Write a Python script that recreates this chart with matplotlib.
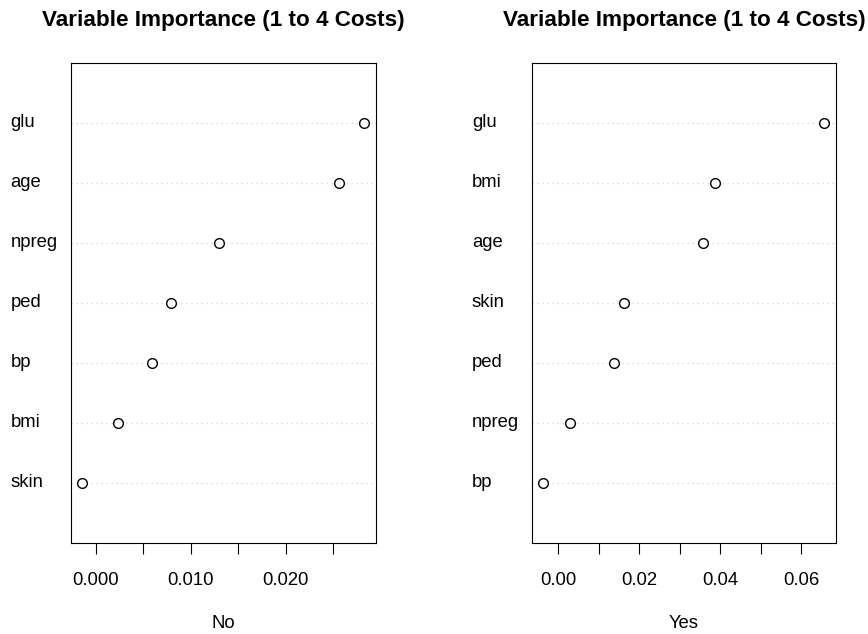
import numpy as np
import matplotlib
matplotlib.use("Agg")
import matplotlib.pyplot as plt

plt.rcParams['font.family'] = ['Liberation Sans', 'DejaVu Sans']

# variable importance, listed top to bottom as in the chart
no_labels = ['glu', 'age', 'npreg', 'ped', 'bp', 'bmi', 'skin']
no_vals = [0.02828, 0.02564, 0.01303, 0.00796, 0.00596, 0.00233, -0.00141]

yes_labels = ['glu', 'bmi', 'age', 'skin', 'ped', 'npreg', 'bp']
yes_vals = [0.06578, 0.03871, 0.03581, 0.01610, 0.01362, 0.00287, -0.00371]

title = 'Variable Importance (1 to 4 Costs)'

no_ticks = [0.000, 0.005, 0.010, 0.015, 0.020, 0.025]
no_ticklabels = ['0.000', '', '0.010', '', '0.020', '']
yes_ticks = [0.00, 0.01, 0.02, 0.03, 0.04, 0.05, 0.06]
yes_ticklabels = ['0.00', '', '0.02', '', '0.04', '', '0.06']

FS = 13.3


def dotchart(ax, labels, vals, ticks, ticklabels, xlab):
    n = len(vals)
    ypos = np.arange(n, 0, -1)
    for y in ypos:
        ax.axhline(y, color='lightgray', ls=(0, (1, 3)), lw=0.9, zorder=1)
    ax.plot(vals, ypos, 'o', mfc='white', mec='black', mew=1.0, ms=7,
            zorder=3, ls='none')
    # R dotchart pads the data range by 4% each side
    lo, hi = min(vals), max(vals)
    ext = (hi - lo) * 0.04
    ax.set_xlim(lo - ext, hi + ext)
    ax.set_ylim(0, n + 1)
    ax.set_yticks([])
    ax.set_xticks(ticks)
    ax.set_xticklabels(ticklabels, fontsize=FS)
    ax.tick_params(axis='x', direction='out', length=8, width=0.8, pad=13.5)
    for sp in ax.spines.values():
        sp.set_linewidth(0.8)
    for lab, y in zip(labels, ypos):
        ax.annotate(lab, xy=(0, y), xycoords=ax.get_yaxis_transform(),
                    xytext=(-43.5, 0), textcoords='offset points',
                    ha='left', va='center', fontsize=FS)
    ax.annotate(xlab, xy=(0.5, 0), xycoords='axes fraction',
                xytext=(0, -58.2), textcoords='offset points',
                ha='center', va='center', fontsize=FS)
    ax.set_title(title, fontsize=16.2, fontweight='bold', pad=26.4)


fig = plt.figure(figsize=(8.68, 6.34), dpi=100)
ax1 = fig.add_axes([0.0818, 0.1443, 0.351, 0.7568])
ax2 = fig.add_axes([0.6132, 0.1443, 0.3495, 0.7568])

dotchart(ax1, no_labels, no_vals, no_ticks, no_ticklabels, 'No')
dotchart(ax2, yes_labels, yes_vals, yes_ticks, yes_ticklabels, 'Yes')

fig.savefig('out.png', dpi=100)
